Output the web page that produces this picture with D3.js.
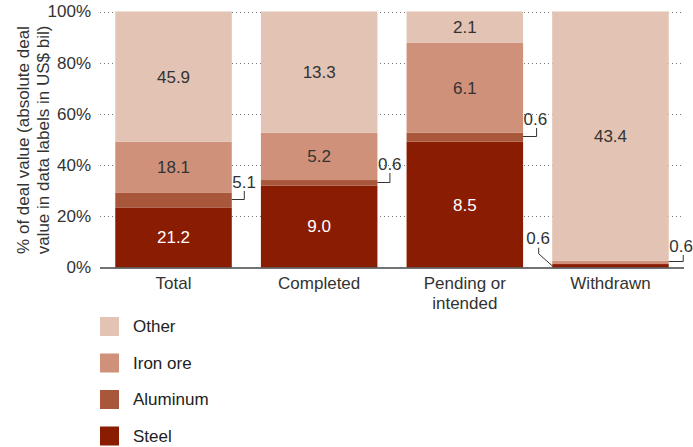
<!DOCTYPE html>
<html>
<head>
<meta charset="utf-8">
<script src="https://cdn.jsdelivr.net/npm/d3@7"></script>
<style>
  html, body { margin: 0; padding: 0; background: #fff; }
  svg { display: block; font-family: "Liberation Sans", Arial, Helvetica, sans-serif; }
</style>
</head>
<body>
<svg id="chart" width="693" height="447"></svg>
<script>
// Deal value by commodity (US$ bil), stacked to 100% per deal status
const categories = ["Total", "Completed", "Pending or intended", "Withdrawn"];
const categoryLines = [["Total"], ["Completed"], ["Pending or", "intended"], ["Withdrawn"]];
const seriesNames = ["Steel", "Aluminum", "Iron ore", "Other"];
const steel    = [21.2, 9.0, 8.5, 0.6];
const aluminum = [5.1, 0.6, 0.6, 0];
const ironOre  = [18.1, 5.2, 6.1, 0.6];
const other    = [45.9, 13.3, 2.1, 43.4];
const yTicks   = [0, 20, 40, 60, 80, 100];
const colors   = { "Steel": "#8a1c02", "Aluminum": "#a9573a", "Iron ore": "#cf917a", "Other": "#e3c3b3" };
const legendOrder = ["Other", "Iron ore", "Aluminum", "Steel"];
const FS = 17;

// Small segments get a callout instead of an inside label
const callouts = [
  { cat: "Total", key: "Aluminum", kind: "elbow", dx: 12, rise: 9 },
  { cat: "Completed", key: "Aluminum", kind: "elbow", dx: 12, rise: 10 },
  { cat: "Pending or intended", key: "Aluminum", kind: "elbow", dx: 13, rise: 9 },
  { cat: "Withdrawn", key: "Steel", kind: "diagonal" },
  { cat: "Withdrawn", key: "Iron ore", kind: "elbow", dx: 14, rise: 7 }
];

const rows = categories.map((c, i) => {
  const r = { cat: c, "Steel": steel[i], "Aluminum": aluminum[i], "Iron ore": ironOre[i], "Other": other[i] };
  r.total = steel[i] + aluminum[i] + ironOre[i] + other[i];
  seriesNames.forEach(k => r[k + "_pct"] = r[k] / r.total * 100);
  return r;
});

const svg = d3.select("#chart");
const x = d3.scaleBand().domain(categories).range([100.7, 683.3]).paddingInner(0.2).paddingOuter(0.1);
const y = d3.scaleLinear().domain([0, 100]).range([267.5, 11.5]);

// dotted gridlines
svg.append("g").selectAll("line").data(yTicks.filter(t => t > 0)).join("line")
  .attr("x1", 100).attr("x2", 684)
  .attr("y1", d => Math.round(y(d)) + 0.5).attr("y2", d => Math.round(y(d)) + 0.5)
  .attr("stroke", "#777").attr("stroke-width", 1).attr("stroke-dasharray", "1,3");

// y-axis tick labels
svg.append("g").selectAll("text").data(yTicks).join("text")
  .attr("x", 91).attr("y", d => y(d)).attr("dy", "0.35em")
  .attr("text-anchor", "end").attr("font-size", FS).attr("fill", "#333")
  .text(d => d + "%");

// stacked bars
const stack = d3.stack().keys(seriesNames.map(k => k + "_pct"));
const layers = stack(rows);
svg.append("g").selectAll("g").data(layers).join("g")
  .attr("fill", d => colors[d.key.replace("_pct", "")])
  .selectAll("rect").data(d => d).join("rect")
  .attr("x", d => x(d.data.cat))
  .attr("width", x.bandwidth())
  .attr("y", d => y(d[1]))
  .attr("height", d => y(d[0]) - y(d[1]));

// value labels inside segments
const calloutSet = new Set(callouts.map(c => c.cat + "|" + c.key));
const labelG = svg.append("g").attr("font-size", FS);
layers.forEach(layer => {
  const key = layer.key.replace("_pct", "");
  layer.forEach(d => {
    const v = d.data[key];
    if (v <= 0 || calloutSet.has(d.data.cat + "|" + key)) return;
    labelG.append("text")
      .attr("x", x(d.data.cat) + x.bandwidth() / 2)
      .attr("y", (y(d[0]) + y(d[1])) / 2)
      .attr("dy", "0.35em")
      .attr("text-anchor", "middle")
      .attr("fill", key === "Steel" ? "#fff" : "#333")
      .text(v.toFixed(1));
  });
});

// callout labels with leader lines
const calloutG = svg.append("g").attr("font-size", FS);
callouts.forEach(c => {
  const layer = layers.find(l => l.key === c.key + "_pct");
  const d = layer[categories.indexOf(c.cat)];
  const v = d.data[c.key];
  const midY = (y(d[0]) + y(d[1])) / 2;
  if (c.kind === "elbow") {
    const x0 = x(c.cat) + x.bandwidth();
    const x1 = x0 + c.dx;
    calloutG.append("path")
      .attr("d", `M${x0},${Math.round(midY) - 0.5}H${x1 + 0.5}V${Math.round(midY) - c.rise}`)
      .attr("fill", "none").attr("stroke", "#333").attr("stroke-width", 1);
    calloutG.append("text")
      .attr("x", x0 + 0.5).attr("y", Math.round(midY) - c.rise - 3)
      .attr("fill", "#333").text(v.toFixed(1));
  } else {
    const xb = x(c.cat);
    calloutG.append("path")
      .attr("d", `M${xb - 13.5},${midY - 18}V${midY - 12}L${xb},${midY}`)
      .attr("fill", "none").attr("stroke", "#333").attr("stroke-width", 1);
    calloutG.append("text")
      .attr("x", xb - 26).attr("y", midY - 22)
      .attr("fill", "#333").text(v.toFixed(1));
  }
});

// baseline
svg.append("line")
  .attr("x1", 100).attr("x2", 684)
  .attr("y1", y(0) + 0.5).attr("y2", y(0) + 0.5)
  .attr("stroke", "#444").attr("stroke-width", 1.5);

// category labels
const catG = svg.append("g").attr("font-size", FS).attr("fill", "#333").attr("text-anchor", "middle");
categories.forEach((c, i) => {
  const t = catG.append("text").attr("x", x(c) + x.bandwidth() / 2).attr("y", 289);
  categoryLines[i].forEach((ln, j) => t.append("tspan")
    .attr("x", x(c) + x.bandwidth() / 2).attr("dy", j === 0 ? 0 : 20).text(ln));
});

// y-axis title
const title = svg.append("text")
  .attr("transform", "translate(29,140) rotate(-90)")
  .attr("text-anchor", "middle").attr("font-size", FS).attr("fill", "#333");
title.append("tspan").attr("x", 0).attr("dy", 0).text("% of deal value (absolute deal");
title.append("tspan").attr("x", 0).attr("dy", 20).text("value in data labels in US$ bil)");

// legend
const legend = svg.append("g").selectAll("g").data(legendOrder).join("g")
  .attr("transform", (d, i) => `translate(100,${317 + i * 36.5})`);
legend.append("rect").attr("width", 19).attr("height", 19).attr("fill", d => colors[d]);
legend.append("text").attr("x", 33).attr("y", 9.5).attr("dy", "0.35em")
  .attr("font-size", FS).attr("fill", "#222").text(d => d);
</script>
</body>
</html>
